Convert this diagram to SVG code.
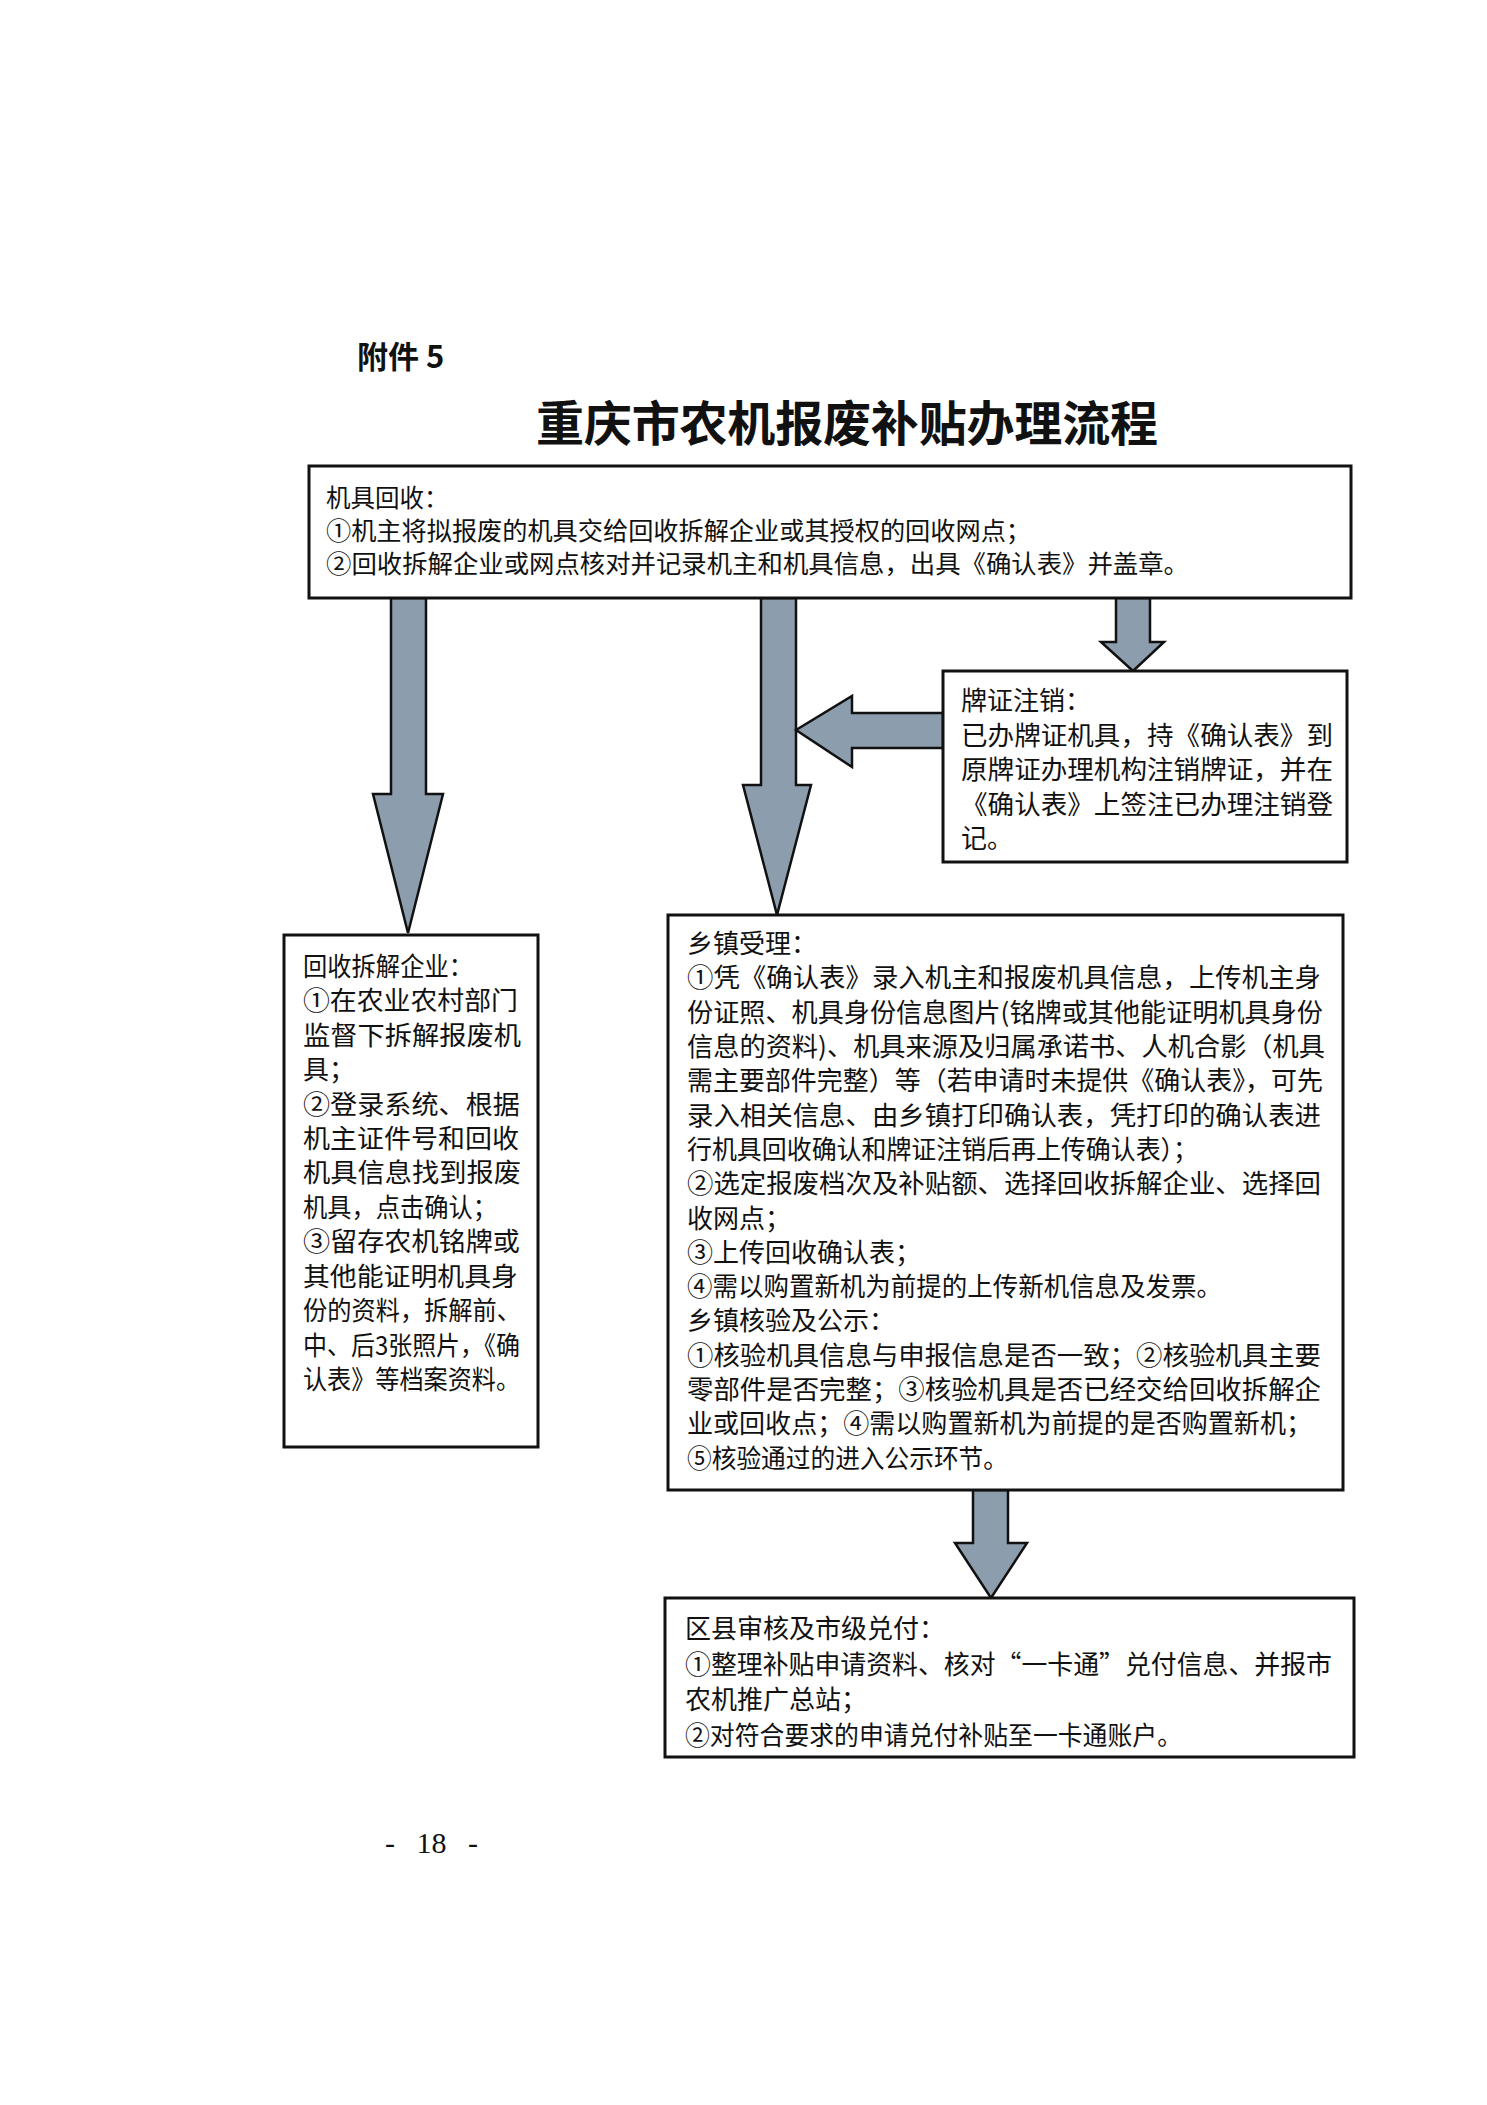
<svg xmlns="http://www.w3.org/2000/svg" width="1487" height="2105" viewBox="0 0 1487 2105">
<style>
.box{fill:#ffffff;stroke:#111111;stroke-width:3}
.arrow{fill:#8c9eae;stroke:#111111;stroke-width:2.5;stroke-linejoin:miter}
.t{font-family:"Noto Sans CJK SC","Noto Sans",sans-serif;font-size:26px;fill:#111111}
.tt{font-family:"Noto Sans CJK SC","Noto Sans",sans-serif;font-size:24.5px;fill:#111111}
.tl{font-family:"Noto Sans CJK SC","Noto Sans",sans-serif;font-size:26px;fill:#111111}
.title{font-family:"Noto Sans CJK SC","Noto Sans",sans-serif;font-size:48px;font-weight:bold;fill:#111111}
.att{font-family:"Noto Sans CJK SC","Noto Sans",sans-serif;font-size:31px;font-weight:bold;fill:#111111}
.pg{font-family:"Liberation Serif",serif;font-size:30px;fill:#111111;word-spacing:14px}
</style>
<rect x="0" y="0" width="1487" height="2105" fill="#ffffff"/>

<text class="att" x="357" y="368">附件 5</text>
<text class="title" x="536" y="441" textLength="622" lengthAdjust="spacing">重庆市农机报废补贴办理流程</text>

<g id="connectors">
  <polygon class="arrow" points="391,598 391,794 373,794 408,933 443,794 426,794 426,598"/>
  <polygon class="arrow" points="761,598 761,785 743,785 777,915 811,785 796,785 796,598"/>
  <polygon class="arrow" points="1116,598 1116,642 1101,642 1133,671 1164,642 1150,642 1150,598"/>
  <polygon class="arrow" points="943,713 852,713 852,696 796,730 852,767 852,748 943,748"/>
  <polygon class="arrow" points="973,1490 973,1543 955,1543 991,1598 1027,1543 1008,1543 1008,1490"/>
</g>

<g id="node-recycle">
  <rect class="box" x="309" y="466" width="1042" height="132"/>
  <text class="tt" x="326" y="507">机具回收：</text>
  <text class="tt" x="326" y="540" textLength="705" lengthAdjust="spacingAndGlyphs">①机主将拟报废的机具交给回收拆解企业或其授权的回收网点；</text>
  <text class="tt" x="326" y="573" textLength="863" lengthAdjust="spacingAndGlyphs">②回收拆解企业或网点核对并记录机主和机具信息，出具《确认表》并盖章。</text>
</g>

<g id="node-cancel">
  <rect class="box" x="943" y="671" width="404" height="191"/>
  <text class="t" x="961" y="710">牌证注销：</text>
  <text class="t" x="961" y="745" textLength="372" lengthAdjust="spacingAndGlyphs">已办牌证机具，持《确认表》到</text>
  <text class="t" x="961" y="779" textLength="372" lengthAdjust="spacingAndGlyphs">原牌证办理机构注销牌证，并在</text>
  <text class="t" x="961" y="814" textLength="372" lengthAdjust="spacingAndGlyphs">《确认表》上签注已办理注销登</text>
  <text class="t" x="961" y="848">记。</text>
</g>

<g id="node-dismantle">
  <rect class="box" x="284" y="935" width="254" height="512"/>
  <text class="tl" x="303" y="976" textLength="170" lengthAdjust="spacingAndGlyphs">回收拆解企业：</text>
  <text class="tl" x="303" y="1010" textLength="215" lengthAdjust="spacingAndGlyphs">①在农业农村部门</text>
  <text class="tl" x="303" y="1045" textLength="218" lengthAdjust="spacingAndGlyphs">监督下拆解报废机</text>
  <text class="tl" x="303" y="1079">具；</text>
  <text class="tl" x="303" y="1114" textLength="217" lengthAdjust="spacingAndGlyphs">②登录系统、根据</text>
  <text class="tl" x="303" y="1148" textLength="216" lengthAdjust="spacingAndGlyphs">机主证件号和回收</text>
  <text class="tl" x="303" y="1182" textLength="218" lengthAdjust="spacingAndGlyphs">机具信息找到报废</text>
  <text class="tl" x="303" y="1217" textLength="194" lengthAdjust="spacingAndGlyphs">机具，点击确认；</text>
  <text class="tl" x="303" y="1251" textLength="217" lengthAdjust="spacingAndGlyphs">③留存农机铭牌或</text>
  <text class="tl" x="303" y="1286" textLength="215" lengthAdjust="spacingAndGlyphs">其他能证明机具身</text>
  <text class="tl" x="303" y="1320" textLength="218" lengthAdjust="spacingAndGlyphs">份的资料，拆解前、</text>
  <text class="tl" x="303" y="1355" textLength="217" lengthAdjust="spacingAndGlyphs">中、后3张照片，《确</text>
  <text class="tl" x="303" y="1389" textLength="217" lengthAdjust="spacingAndGlyphs">认表》等档案资料。</text>
</g>

<g id="node-township">
  <rect class="box" x="668" y="915" width="675" height="575"/>
  <text class="t" x="687" y="953">乡镇受理：</text>
  <text class="t" x="687" y="987" textLength="634" lengthAdjust="spacingAndGlyphs">①凭《确认表》录入机主和报废机具信息，上传机主身</text>
  <text class="t" x="687" y="1022" textLength="636" lengthAdjust="spacingAndGlyphs">份证照、机具身份信息图片(铭牌或其他能证明机具身份</text>
  <text class="t" x="687" y="1056" textLength="638" lengthAdjust="spacingAndGlyphs">信息的资料)、机具来源及归属承诺书、人机合影（机具</text>
  <text class="t" x="687" y="1090" textLength="636" lengthAdjust="spacingAndGlyphs">需主要部件完整）等（若申请时未提供《确认表》，可先</text>
  <text class="t" x="687" y="1125" textLength="634" lengthAdjust="spacingAndGlyphs">录入相关信息、由乡镇打印确认表，凭打印的确认表进</text>
  <text class="t" x="687" y="1159" textLength="511" lengthAdjust="spacingAndGlyphs">行机具回收确认和牌证注销后再上传确认表）；</text>
  <text class="t" x="687" y="1193" textLength="634" lengthAdjust="spacingAndGlyphs">②选定报废档次及补贴额、选择回收拆解企业、选择回</text>
  <text class="t" x="687" y="1228">收网点；</text>
  <text class="t" x="687" y="1262">③上传回收确认表；</text>
  <text class="t" x="687" y="1296" textLength="535" lengthAdjust="spacingAndGlyphs">④需以购置新机为前提的上传新机信息及发票。</text>
  <text class="t" x="687" y="1330">乡镇核验及公示：</text>
  <text class="t" x="687" y="1365" textLength="634" lengthAdjust="spacingAndGlyphs">①核验机具信息与申报信息是否一致；②核验机具主要</text>
  <text class="t" x="687" y="1399" textLength="634" lengthAdjust="spacingAndGlyphs">零部件是否完整；③核验机具是否已经交给回收拆解企</text>
  <text class="t" x="687" y="1433" textLength="625" lengthAdjust="spacingAndGlyphs">业或回收点；④需以购置新机为前提的是否购置新机；</text>
  <text class="t" x="687" y="1468" textLength="321" lengthAdjust="spacingAndGlyphs">⑤核验通过的进入公示环节。</text>
</g>

<g id="node-county">
  <rect class="box" x="665" y="1598" width="689" height="159"/>
  <text class="t" x="685" y="1638">区县审核及市级兑付：</text>
  <text class="t" x="685" y="1674" textLength="647" lengthAdjust="spacingAndGlyphs">①整理补贴申请资料、核对“一卡通”兑付信息、并报市</text>
  <text class="t" x="685" y="1709">农机推广总站；</text>
  <text class="t" x="685" y="1745" textLength="497" lengthAdjust="spacingAndGlyphs">②对符合要求的申请兑付补贴至一卡通账户。</text>
</g>

<text class="pg" x="385" y="1853">- 18 -</text>
</svg>
